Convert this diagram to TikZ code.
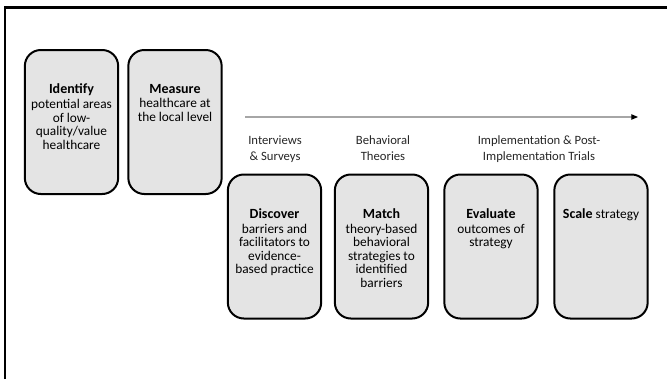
\documentclass[tikz,border=0pt]{standalone}
\usepackage{fontspec}
\setmainfont{Carlito}
\usetikzlibrary{shapes,arrows,arrows.meta,positioning}

\definecolor{boxgray}{HTML}{E4E4E4}
\definecolor{linegray}{HTML}{A6A6A6}
\definecolor{labelgray}{HTML}{262626}

\tikzset{
    stage/.style={draw, line width=1.5pt, rounded corners=12pt, fill=boxgray, minimum width=70pt, minimum height=108pt},
    stagetext/.style={anchor=north, align=center, inner sep=0pt, font=\fontsize{10}{10.2}\selectfont},
    phase/.style={align=center, text=labelgray, font=\fontsize{9.5}{11.5}\selectfont}
}
\newcommand{\stagetitle}[1]{{\fontsize{10.5}{10.5}\selectfont\bfseries #1}}

\begin{document}
\begin{tikzpicture}[x=0.75pt, y=-0.75pt]
    \useasboundingbox (0,0) rectangle (667,379);

    % Frame
    \draw[line width=1.6pt] (5,379) -- (5,7.5) -- (667,7.5);

    % Define nodes
    \node[stage] (identify) at (71.5,122) {};
    \node[stage] (measure) at (175,122) {};
    \node[stage] (discover) at (274.5,246.5) {};
    \node[stage] (match) at (381.5,246.5) {};
    \node[stage] (evaluate) at (491,246.5) {};
    \node[stage] (scale) at (601,246.5) {};

    % Box texts
    \node[stagetext] (identifytext) at ([yshift=-26pt]identify.north) {\stagetitle{Identify}\\[1pt]potential areas\\of low-\\quality/value\\healthcare};
    \node[stagetext] (measuretext) at ([yshift=-26pt]measure.north) {\stagetitle{Measure}\\[1pt]healthcare at\\the local level};
    \node[stagetext] (discovertext) at ([yshift=-26pt]discover.north) {\stagetitle{Discover}\\[1pt]barriers and\\facilitators to\\evidence-\\based practice};
    \node[stagetext] (matchtext) at ([yshift=-26pt]match.north) {\stagetitle{Match}\\[1pt]theory-based\\behavioral\\strategies to\\identified\\barriers};
    \node[stagetext] (evaluatetext) at ([yshift=-26pt]evaluate.north) {\stagetitle{Evaluate}\\[1pt]outcomes of\\strategy};
    \node[stagetext] (scaletext) at ([yshift=-26pt]scale.north) {\stagetitle{Scale} strategy};

    % Phase labels
    \node[phase] (interviews) at (275,149) {Interviews\\\& Surveys};
    \node[phase] (theories) at (383,148) {Behavioral\\Theories};
    \node[phase] (trials) at (539,149) {Implementation \& Post-\\Implementation Trials};

    % Timeline arrow
    \coordinate (timestart) at (245,117);
    \coordinate (timeend) at (638,117);
    \draw[linegray, line width=0.8pt, -{Triangle[black, length=5pt, width=4pt]}] (timestart) -- (timeend);
\end{tikzpicture}
\end{document}
